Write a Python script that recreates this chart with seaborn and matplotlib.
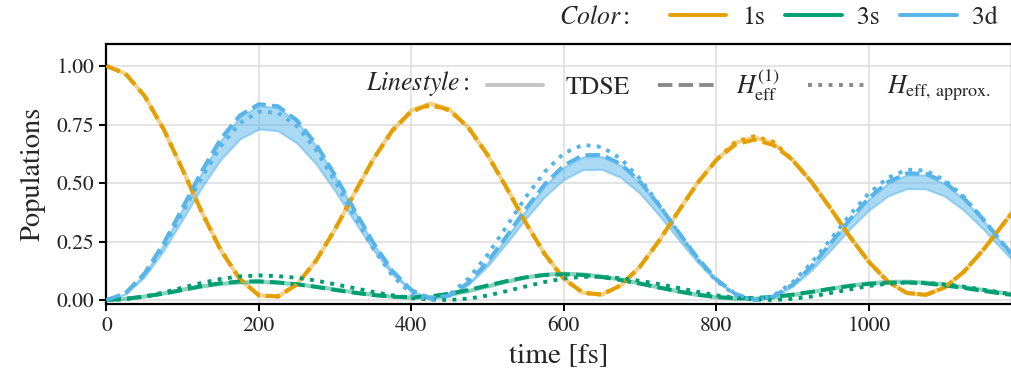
import numpy as np
import pandas as pd
import matplotlib
matplotlib.use("Agg")
import matplotlib.pyplot as plt
from matplotlib.lines import Line2D
import seaborn as sns

# ---------------- data ----------------
time_fs = [0, 25, 50, 75, 100, 125, 150, 175, 200, 225, 250, 275, 300, 325, 350, 375,
           400, 425, 450, 475, 500, 525, 550, 575, 600, 625, 650, 675, 700, 725, 750,
           775, 800, 825, 850, 875, 900, 925, 950, 975, 1000, 1025, 1050, 1075, 1100,
           1125, 1150, 1175, 1200]

pop_1s_heff = [1.000, 0.967, 0.872, 0.730, 0.556, 0.376, 0.213, 0.089, 0.020, 0.015, 0.067,
               0.168, 0.303, 0.454, 0.601, 0.724, 0.806, 0.836, 0.811, 0.736, 0.620, 0.479,
               0.331, 0.196, 0.091, 0.031, 0.023, 0.063, 0.143, 0.253, 0.377, 0.498, 0.598,
               0.664, 0.685, 0.662, 0.599, 0.504, 0.391, 0.272, 0.164, 0.079, 0.030, 0.022,
               0.054, 0.121, 0.213, 0.318, 0.423]
pop_1s_tdse = [1.000, 0.967, 0.872, 0.730, 0.556, 0.376, 0.213, 0.089, 0.020, 0.015, 0.067,
               0.168, 0.303, 0.454, 0.601, 0.724, 0.810, 0.840, 0.815, 0.736, 0.620, 0.479,
               0.331, 0.196, 0.091, 0.031, 0.023, 0.063, 0.143, 0.253, 0.377, 0.498, 0.598,
               0.672, 0.695, 0.670, 0.599, 0.504, 0.391, 0.272, 0.164, 0.079, 0.030, 0.022,
               0.054, 0.121, 0.213, 0.318, 0.423]
pop_1s_approx = [1.000, 0.967, 0.872, 0.730, 0.556, 0.376, 0.213, 0.089, 0.020, 0.015, 0.067,
                 0.168, 0.303, 0.454, 0.601, 0.724, 0.806, 0.832, 0.811, 0.736, 0.620, 0.479,
                 0.331, 0.196, 0.091, 0.031, 0.023, 0.063, 0.143, 0.253, 0.377, 0.498, 0.598,
                 0.676, 0.700, 0.676, 0.599, 0.504, 0.391, 0.272, 0.164, 0.079, 0.030, 0.022,
                 0.054, 0.121, 0.213, 0.318, 0.423]

pop_3s_heff = [0.000, 0.005, 0.015, 0.027, 0.043, 0.059, 0.072, 0.079, 0.080, 0.075, 0.067,
               0.056, 0.043, 0.031, 0.021, 0.014, 0.012, 0.016, 0.027, 0.043, 0.062, 0.081,
               0.097, 0.107, 0.110, 0.107, 0.098, 0.085, 0.070, 0.053, 0.037, 0.023, 0.013,
               0.008, 0.009, 0.014, 0.023, 0.035, 0.048, 0.060, 0.069, 0.074, 0.075, 0.071,
               0.062, 0.051, 0.039, 0.027, 0.017]
pop_3s_tdse = [0.000, 0.005, 0.015, 0.028, 0.044, 0.058, 0.069, 0.075, 0.077, 0.074, 0.067,
               0.057, 0.045, 0.033, 0.022, 0.014, 0.010, 0.012, 0.022, 0.038, 0.058, 0.078,
               0.096, 0.108, 0.112, 0.109, 0.100, 0.087, 0.071, 0.054, 0.037, 0.022, 0.011,
               0.005, 0.005, 0.011, 0.021, 0.034, 0.048, 0.061, 0.071, 0.077, 0.078, 0.074,
               0.066, 0.055, 0.043, 0.031, 0.020]
pop_3s_approx = [0.000, 0.004, 0.015, 0.032, 0.053, 0.073, 0.090, 0.101, 0.105, 0.102, 0.095,
                 0.083, 0.067, 0.051, 0.034, 0.020, 0.008, 0.002, 0.000, 0.006, 0.019, 0.038,
                 0.058, 0.077, 0.092, 0.099, 0.099, 0.093, 0.082, 0.068, 0.052, 0.035, 0.020,
                 0.009, 0.002, 0.000, 0.005, 0.015, 0.030, 0.045, 0.060, 0.070, 0.075, 0.073,
                 0.067, 0.057, 0.044, 0.031, 0.018]

pop_3d_heff = [0.000, 0.029, 0.114, 0.242, 0.395, 0.551, 0.689, 0.789, 0.837, 0.828, 0.768,
               0.666, 0.533, 0.387, 0.245, 0.125, 0.043, 0.006, 0.019, 0.074, 0.163, 0.273,
               0.389, 0.495, 0.575, 0.619, 0.620, 0.581, 0.506, 0.405, 0.292, 0.182, 0.089,
               0.026, 0.000, 0.015, 0.065, 0.144, 0.242, 0.344, 0.435, 0.504, 0.541, 0.540,
               0.503, 0.435, 0.346, 0.246, 0.150]
pop_3d_approx = [0.000, 0.028, 0.108, 0.229, 0.375, 0.524, 0.657, 0.756, 0.805, 0.800, 0.743,
                 0.641, 0.507, 0.360, 0.220, 0.104, 0.026, 0.000, 0.024, 0.092, 0.193, 0.315,
                 0.439, 0.548, 0.627, 0.663, 0.654, 0.603, 0.518, 0.408, 0.290, 0.176, 0.082,
                 0.021, 0.000, 0.019, 0.075, 0.159, 0.259, 0.363, 0.455, 0.522, 0.557, 0.553,
                 0.512, 0.440, 0.345, 0.243, 0.145]
# TDSE 3d oscillates quickly -> envelope (upper / lower)
pop_3d_tdse_hi = [0.000, 0.028, 0.112, 0.238, 0.390, 0.545, 0.682, 0.782, 0.830, 0.822, 0.762,
                  0.660, 0.528, 0.383, 0.242, 0.123, 0.042, 0.006, 0.018, 0.072, 0.160, 0.268,
                  0.383, 0.488, 0.567, 0.611, 0.613, 0.575, 0.500, 0.400, 0.288, 0.180, 0.088,
                  0.026, 0.000, 0.015, 0.064, 0.142, 0.239, 0.340, 0.430, 0.498, 0.535, 0.534,
                  0.497, 0.430, 0.342, 0.243, 0.148]
pop_3d_tdse_lo = [0.000, 0.025, 0.099, 0.211, 0.345, 0.481, 0.601, 0.688, 0.731, 0.723, 0.670,
                  0.581, 0.465, 0.338, 0.214, 0.109, 0.037, 0.005, 0.017, 0.065, 0.145, 0.243,
                  0.347, 0.442, 0.515, 0.557, 0.558, 0.523, 0.455, 0.362, 0.261, 0.162, 0.079,
                  0.023, 0.000, 0.013, 0.057, 0.127, 0.213, 0.303, 0.383, 0.444, 0.476, 0.475,
                  0.443, 0.383, 0.304, 0.216, 0.132]

states = ["1s", "3s", "3d"]
state_colors = {"1s": "#E69F00", "3s": "#009E73", "3d": "#56B4E9"}
y_ticks = [0.00, 0.25, 0.50, 0.75, 1.00]
x_ticks = [0, 200, 400, 600, 800, 1000]

# ---------------- style ----------------
sns.set_theme(style="whitegrid")
plt.rcParams["font.family"] = ["STIXGeneral", "DejaVu Serif"]
plt.rcParams["mathtext.fontset"] = "stix"
plt.rcParams["axes.unicode_minus"] = False

def long_df(vals):
    rows = []
    for st, v in zip(states, vals):
        for t, p in zip(time_fs, v):
            rows.append({"time": t, "pop": p, "state": st})
    return pd.DataFrame(rows)

df_tdse = long_df([pop_1s_tdse, pop_3s_tdse, pop_3d_tdse_hi])
df_heff = long_df([pop_1s_heff, pop_3s_heff, pop_3d_heff])
df_appr = long_df([pop_1s_approx, pop_3s_approx, pop_3d_approx])

fig = plt.figure(figsize=(10.12, 3.83), dpi=100)
ax = fig.add_axes([0.1052, 0.2057, 0.8948, 0.6794])

lw = 2.8
# TDSE: light, thick; 3d drawn as an envelope band
ax.fill_between(time_fs, pop_3d_tdse_lo, pop_3d_tdse_hi, color=state_colors["3d"],
                alpha=0.5, linewidth=1.5, edgecolor=state_colors["3d"], zorder=2)
sns.lineplot(data=df_tdse[df_tdse.state != "3d"], x="time", y="pop", hue="state",
             palette=state_colors, legend=False, ax=ax, lw=3.0, alpha=0.45, zorder=2)
sns.lineplot(data=df_heff, x="time", y="pop", hue="state", palette=state_colors,
             legend=False, ax=ax, lw=lw, linestyle="--", zorder=3)
sns.lineplot(data=df_appr, x="time", y="pop", hue="state", palette=state_colors,
             legend=False, ax=ax, lw=lw, linestyle=":", zorder=4)

ax.set_xlim(0, 1188)
ax.set_ylim(-0.018, 1.094)
ax.set_xticks(x_ticks)
ax.set_xticklabels([str(x) for x in x_ticks])
ax.set_yticks(y_ticks)
ax.set_yticklabels([f"{y:.2f}" for y in y_ticks])
ax.grid(True, color="#dddddd", lw=1.1)
ax.set_facecolor("white")
for s in ax.spines.values():
    s.set_color("black")
    s.set_linewidth(1.6)
ax.tick_params(axis="both", which="major", direction="out", length=5, width=1.4,
               color="black", labelsize=15.5, pad=4, left=True, bottom=True)
ax.set_xlabel("time [fs]", fontsize=21, labelpad=5)
ax.set_ylabel("Populations", fontsize=20.5, labelpad=8)

# ---------------- legends ----------------
color_handles = [Line2D([], [], color=state_colors[s], lw=lw) for s in states]
leg1 = fig.legend(color_handles, states, loc="center right",
                  bbox_to_anchor=(998 / 1012, 1 - 18 / 383), ncol=3, frameon=False,
                  fontsize=18.5, handlelength=2.2, handletextpad=0.6, columnspacing=0.8,
                  borderpad=0, borderaxespad=0)
fig.text(630 / 1012, 1 - 18 / 383, r"$Color:$", ha="right", va="center", fontsize=18.5)

ls_handles = [Line2D([], [], color="#c4c4c4", lw=lw),
              Line2D([], [], color="#8a8a8a", lw=lw, linestyle="--"),
              Line2D([], [], color="#8a8a8a", lw=lw, linestyle=":")]
ls_labels = ["TDSE", r"$H_{\mathrm{eff}}^{(1)}$", r"$H_{\mathrm{eff,\,approx.}}$"]
leg2 = fig.legend(ls_handles, ls_labels, loc="center right",
                  bbox_to_anchor=(990 / 1012, 1 - 85 / 383), ncol=3, frameon=False,
                  fontsize=18.5, handlelength=2.2, handletextpad=0.85, columnspacing=1.1,
                  borderpad=0, borderaxespad=0)
fig.text(470 / 1012, 1 - 83 / 383, r"$Linestyle:$", ha="right", va="center", fontsize=18.5)

fig.savefig("out.png", dpi=100)
